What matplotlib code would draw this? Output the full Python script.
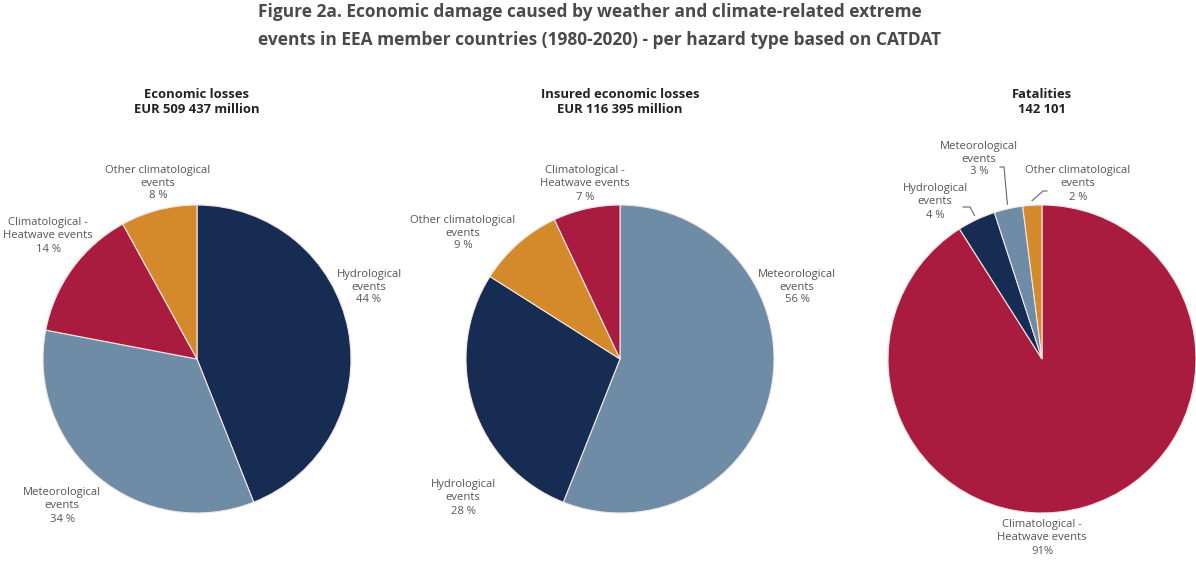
import math
import matplotlib.pyplot as plt

plt.rcParams['font.family'] = ['Open Sans', 'DejaVu Sans']

W, H = 1196, 562

# hazard categories and their shares (%) for each panel, clockwise from 12 o'clock
loss_cats = ["Hydrological", "Meteorological", "Heatwave", "Other"]
loss_share = [44, 34, 14, 8]

insured_cats = ["Meteorological", "Hydrological", "Other", "Heatwave"]
insured_share = [56, 28, 9, 7]

fatal_cats = ["Heatwave", "Hydrological", "Meteorological", "Other"]
fatal_share = [91, 4, 3, 2]

panel_titles = ["Economic losses\nEUR 509 437 million",
                "Insured economic losses\nEUR 116 395 million",
                "Fatalities\n142 101"]

title_lines = ["Figure 2a. Economic damage caused by weather and climate-related extreme",
               "events in EEA member countries (1980-2020) - per hazard type based on CATDAT"]

cat_names = {
    "Hydrological": "Hydrological\nevents",
    "Meteorological": "Meteorological\nevents",
    "Heatwave": "Climatological -\nHeatwave events",
    "Other": "Other climatological\nevents",
}
cat_colors = {
    "Hydrological": "#172c52",
    "Meteorological": "#6e8ca5",
    "Heatwave": "#a91c40",
    "Other": "#d4892b",
}

# pixel layout: pie centres, radius, label anchors (x, y from top)
R = 154
centres = [(197, 359), (620, 359), (1042, 359)]
label_pos = [
    [(369, 287), (62, 506), (48, 236), (158, 183)],
    [(797, 287), (463, 498), (463, 233), (585, 184)],
    [(1042, 538), (935, 202), (979, 159), (1078, 184)],
]
# elbow start points of leader lines on the fatalities pie (None = no line)
leader_start = [None, [(963, 207), (970, 207)], [(1000, 167), (1004, 167)],
                [(1047, 191), (1043, 191)]]

text_grey = "#555555"


def py(y):
    return H - y


fig = plt.figure(figsize=(W / 100, H / 100), dpi=100)
ax = fig.add_axes([0, 0, 1, 1])

panels = [(loss_cats, loss_share), (insured_cats, insured_share),
          (fatal_cats, fatal_share)]

for k, (cats, share) in enumerate(panels):
    cx, cy = centres[k]
    ax.pie(share, colors=[cat_colors[c] for c in cats], startangle=90,
           counterclock=False, center=(cx, py(cy)), radius=R, frame=True,
           wedgeprops=dict(edgecolor="#f4e4e4", linewidth=0.8))
    ax.text(cx, py(102), panel_titles[k], ha="center", va="center",
            fontsize=9.4, fontweight="bold", color="#222222", linespacing=1.25)

    for i, c in enumerate(cats):
        gap = "" if share[i] > 90 else " "
        lx, ly = label_pos[k][i]
        ax.text(lx, py(ly), f"{cat_names[c]}\n{share[i]}{gap}%", ha="center",
                va="center", fontsize=8.1, color=text_grey, linespacing=1.25)

    # small slices get leader lines to the rim
    if k == 2:
        cum = 0
        for i, v in enumerate(share):
            mid = (cum + v / 2) / 100 * 2 * math.pi
            cum += v
            if leader_start[i] is None:
                continue
            ex = cx + R * 1.03 * math.sin(mid)
            ey = cy - R * 1.03 * math.cos(mid)
            pts = leader_start[i] + [(ex, ey)]
            ax.plot([p[0] for p in pts], [py(p[1]) for p in pts],
                    color="#666666", lw=0.8, solid_joinstyle="miter")

for j, line in enumerate(title_lines):
    ax.text(258, py(12 + 28 * j), line, ha="left", va="center", fontsize=12.5,
            fontweight="bold", color="#4a4a4a")

ax.set_xlim(0, W)
ax.set_ylim(0, H)
ax.set_aspect("equal")
ax.axis("off")

fig.savefig("out.png", dpi=100)
